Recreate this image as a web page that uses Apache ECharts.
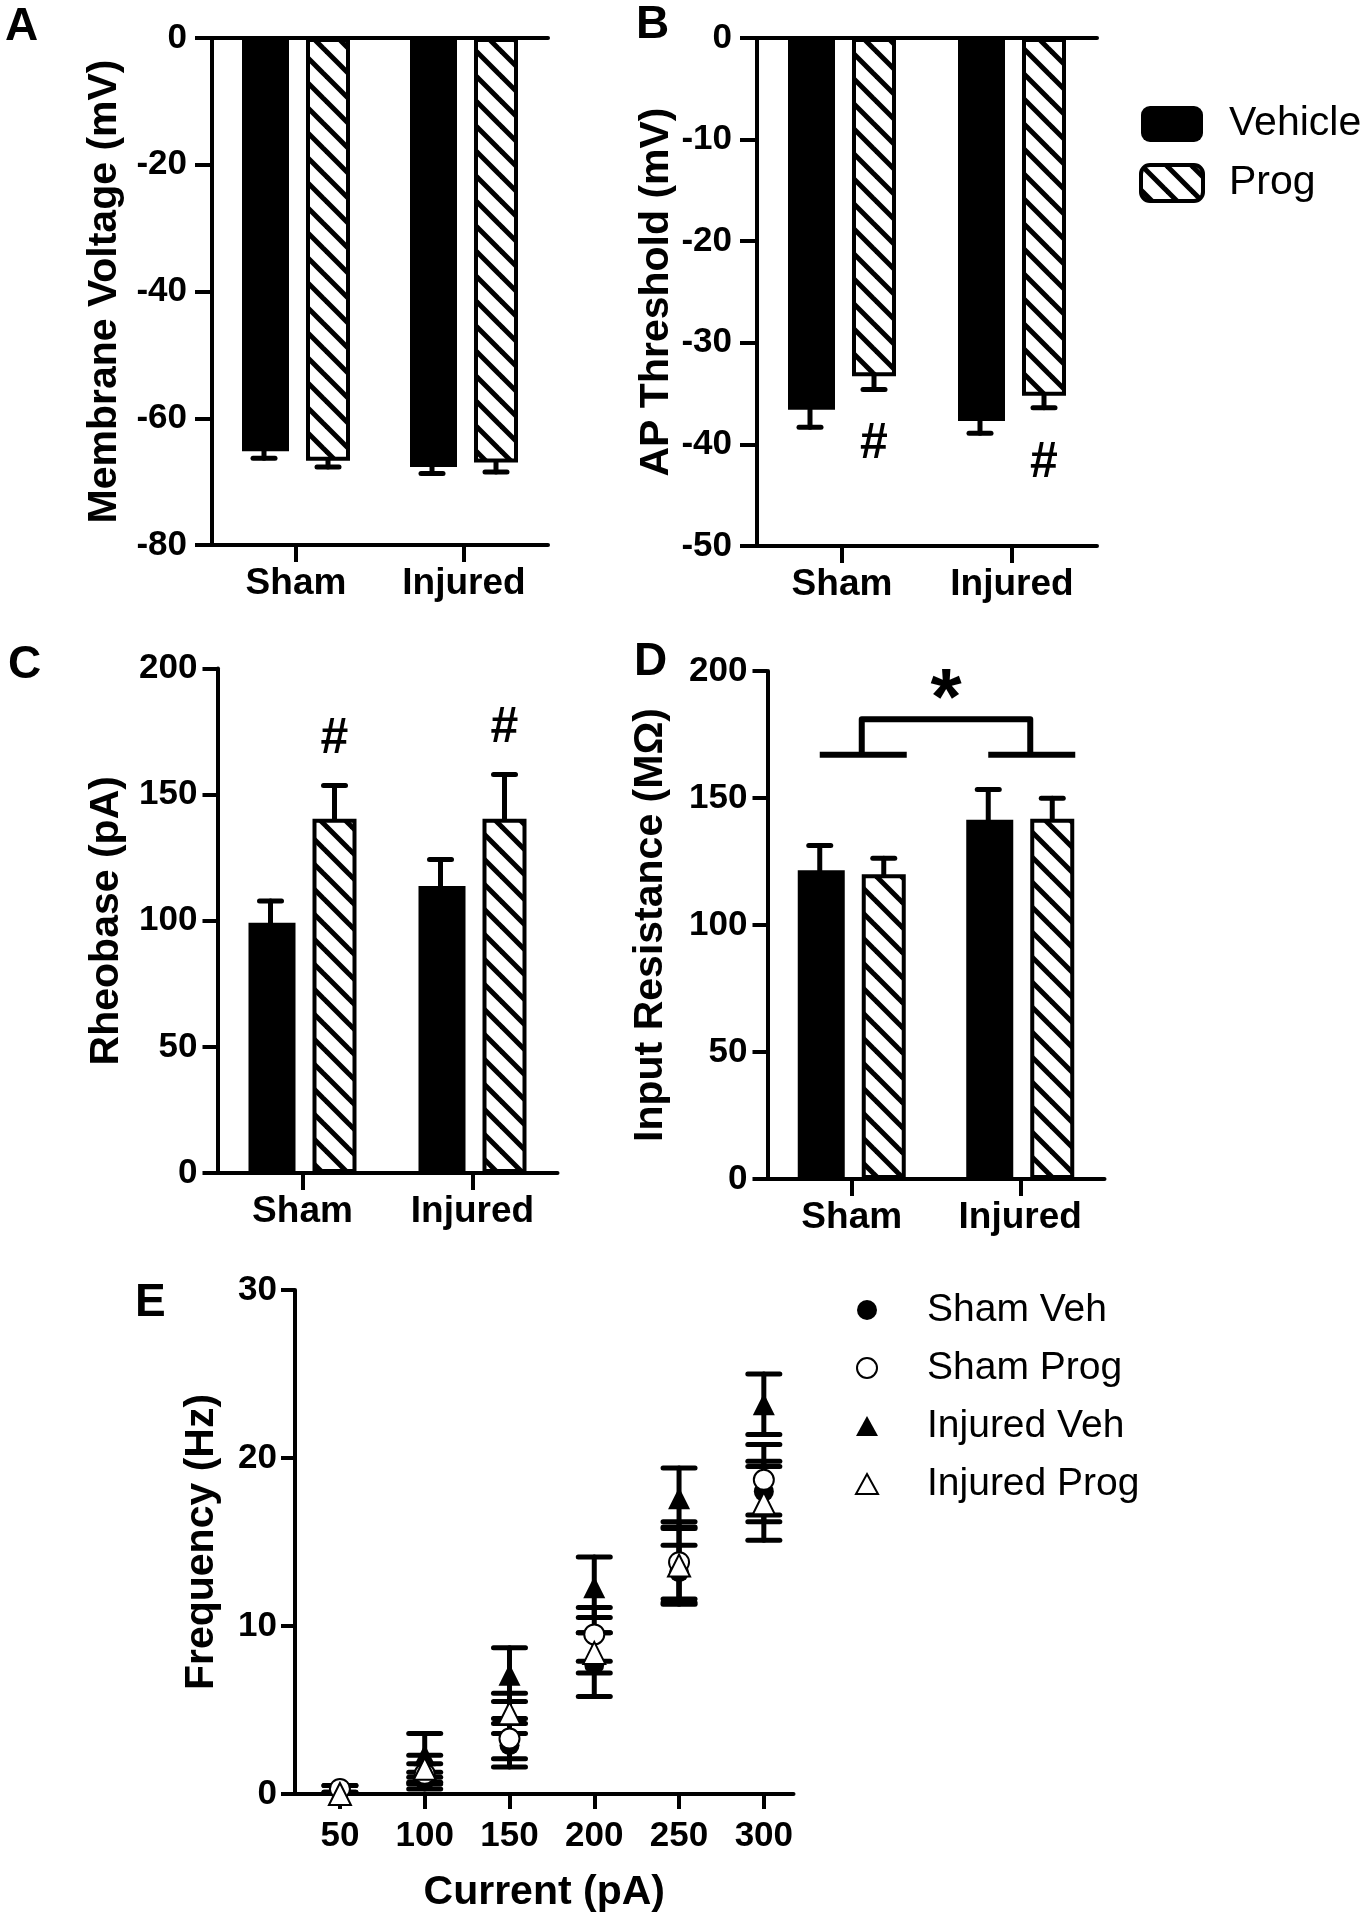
<!DOCTYPE html>
<html><head><meta charset="utf-8">
<script src="https://cdn.jsdelivr.net/npm/echarts@6/dist/echarts.min.js"></script>
<style>html,body{margin:0;padding:0;background:#fff}#c{width:1371px;height:1920px}</style>
</head><body><div id="c"></div>
<script>
// ---------- DATA ----------
const groups = ['Sham', 'Injured'];
const treatments = ['Vehicle', 'Prog'];

// Panel A: Membrane Voltage (mV)
const memTicks = [-80, -60, -40, -20, 0];
const memVeh = [-65.2, -67.7];
const memVehErr = [1.1, 1.0];
const memProg = [-66.7, -67.0];
const memProgErr = [1.0, 1.5];

// Panel B: AP Threshold (mV)
const apTicks = [-50, -40, -30, -20, -10, 0];
const apVeh = [-36.6, -37.7];
const apVehErr = [1.7, 1.2];
const apProg = [-33.3, -35.2];
const apProgErr = [1.3, 1.2];
const apProgSig = ['#', '#'];

// Panel C: Rheobase (pA)
const rheoTicks = [0, 50, 100, 150, 200];
const rheoVeh = [99.2, 113.8];
const rheoVehErr = [8.6, 10.5];
const rheoProg = [140.4, 140.4];
const rheoProgErr = [13.2, 17.6];
const rheoProgSig = ['#', '#'];

// Panel D: Input Resistance (MΩ)
const rinTicks = [0, 50, 100, 150, 200];
const rinVeh = [121.6, 141.4];
const rinVehErr = [9.7, 11.9];
const rinProg = [120.0, 141.8];
const rinProgErr = [6.3, 8.1];
const rinBracket = { base: 167, top: 181, label: '*' };

// Panel E: Frequency (Hz) vs Current (pA)
const currents = [50, 100, 150, 200, 250, 300];
const freqTicks = [0, 10, 20, 30];
const shamVeh = [0.3, 0.8, 2.9, 7.7, 13.2, 18.0];
const shamVehSem = [0.2, 0.5, 1.3, 1.9, 1.6, 1.8];
const shamProg = [0.3, 1.2, 3.3, 9.5, 13.8, 18.7];
const shamProgSem = [0.2, 0.6, 1.2, 1.6, 2.4, 2.1];
const injVeh = [0.0, 2.3, 7.1, 12.3, 17.6, 23.2];
const injVehSem = [0.0, 1.3, 1.6, 1.8, 1.8, 1.8];
const injProg = [0.0, 1.5, 4.8, 8.4, 13.6, 17.3];
const injProgSem = [0.0, 0.8, 1.2, 1.2, 2.3, 2.2];
const eNames = ['Sham Veh', 'Sham Prog', 'Injured Veh', 'Injured Prog'];

// ---------- STYLE ----------
const FONT = '"Liberation Sans", Arial, Helvetica, sans-serif';
const K = '#000';
const AXW = 4;
const BARW = 47, GAP = 17;
const OFF = (BARW + GAP) / 2;

function hatchCanvas() {
  const T = 25, c = document.createElement('canvas');
  c.width = T; c.height = T;
  const g = c.getContext('2d');
  g.fillStyle = '#fff'; g.fillRect(0, 0, T, T);
  g.strokeStyle = '#000'; g.lineWidth = 5;
  for (const k of [-1, 0, 1]) {
    g.beginPath(); g.moveTo(k * T - 3, -3); g.lineTo(k * T + T + 3, T + 3); g.stroke();
  }
  return c;
}
const hatchFill = { image: hatchCanvas(), repeat: 'repeat' };

const panels = [
  { grid: { left: 212, top: 38, width: 336, height: 507 }, ticks: memTicks, name: 'Membrane Voltage (mV)', nameGap: 87, tickLen: 17, labMargin: 25,
    veh: memVeh, vehErr: memVehErr, prog: memProg, progErr: memProgErr, sig: null, neg: true },
  { grid: { left: 757, top: 38, width: 340, height: 508 }, ticks: apTicks, name: 'AP Threshold (mV)', nameGap: 80, tickLen: 17, labMargin: 25,
    veh: apVeh, vehErr: apVehErr, prog: apProg, progErr: apProgErr, sig: apProgSig, sigGap: 55, neg: true },
  { grid: { left: 217.5, top: 668.5, width: 340, height: 504.5 }, ticks: rheoTicks, name: 'Rheobase (pA)', nameGap: 90, tickLen: 15, labMargin: 20,
    veh: rheoVeh, vehErr: rheoVehErr, prog: rheoProg, progErr: rheoProgErr, sig: rheoProgSig, sigGap: 46, neg: false },
  { grid: { left: 767.5, top: 671, width: 337, height: 508 }, ticks: rinTicks, name: 'Input Resistance (MΩ)', nameGap: 96, tickLen: 15, labMargin: 20,
    veh: rinVeh, vehErr: rinVehErr, prog: rinProg, progErr: rinProgErr, sig: null, neg: false, bracket: rinBracket }
];

const grids = [], xAxes = [], yAxes = [], series = [];
const axisLine = { show: true, onZero: false, lineStyle: { color: K, width: AXW } };

function errRenderer(offset, sig, sigGap) {
  return function (params, api) {
    const c = api.value(0), v = api.value(1), e = api.value(2);
    const dir = v < 0 ? -1 : 1;
    const p0 = api.coord([c, v]);
    const p1 = api.coord([c, v + dir * e]);
    const x = p0[0] + offset;
    const st = { stroke: K, lineWidth: 5, lineCap: 'round' };
    const ch = [
      { type: 'line', shape: { x1: x, y1: p0[1], x2: x, y2: p1[1] }, style: st },
      { type: 'line', shape: { x1: x - 11, y1: p1[1], x2: x + 11, y2: p1[1] }, style: st }
    ];
    if (sig && sig[params.dataIndex]) {
      ch.push({ type: 'text', style: { text: sig[params.dataIndex], x: x, y: p1[1] - dir * sigGap,
        textAlign: 'center', textVerticalAlign: 'middle', font: 'bold 50px ' + FONT, fill: K } });
    }
    return { type: 'group', children: ch };
  };
}

panels.forEach((p, i) => {
  grids.push(p.grid);
  const xi = xAxes.length;
  xAxes.push({
    type: 'category', gridIndex: i, data: groups, position: 'bottom',
    axisLine: axisLine,
    axisTick: { show: true, alignWithLabel: true, length: 17, lineStyle: { color: K, width: AXW } },
    axisLabel: { color: K, fontSize: 37, fontWeight: 'bold', fontFamily: FONT, margin: 20 },
    splitLine: { show: false }
  });
  if (p.neg) {
    xAxes.push({
      type: 'category', gridIndex: i, data: groups, position: 'top',
      axisLine: axisLine, axisTick: { show: false }, axisLabel: { show: false }, splitLine: { show: false }
    });
  }
  const t = p.ticks;
  yAxes.push({
    type: 'value', gridIndex: i, min: t[0], max: t[t.length - 1], interval: t[1] - t[0],
    axisLine: axisLine,
    axisTick: { show: true, length: p.tickLen, lineStyle: { color: K, width: AXW } },
    axisLabel: { color: K, fontSize: 35, fontWeight: 'bold', fontFamily: FONT, margin: p.labMargin },
    splitLine: { show: false },
    name: p.name, nameLocation: 'middle', nameGap: p.nameGap,
    nameTextStyle: { color: K, fontSize: 41, fontWeight: 'bold', fontFamily: FONT }
  });
  series.push({ type: 'bar', name: treatments[0], xAxisIndex: xi, yAxisIndex: i, data: p.veh,
    barWidth: BARW, barGap: (GAP / BARW * 100) + '%', itemStyle: { color: K }, z: 2 });
  series.push({ type: 'bar', name: treatments[1], xAxisIndex: xi, yAxisIndex: i, data: p.prog,
    barWidth: BARW - 3, barGap: (GAP / BARW * 100) + '%', itemStyle: { color: hatchFill, borderColor: K, borderWidth: 4 }, z: 2 });
  series.push({ type: 'custom', name: 'err', xAxisIndex: xi, yAxisIndex: i, z: 3, silent: true,
    data: p.veh.map((v, j) => [j, v, p.vehErr[j]]), renderItem: errRenderer(-OFF, null, 0) });
  series.push({ type: 'custom', name: 'err', xAxisIndex: xi, yAxisIndex: i, z: 3, silent: true,
    data: p.prog.map((v, j) => [j, v, p.progErr[j]]), renderItem: errRenderer(OFF, p.sig, p.sigGap || 0) });
  if (p.bracket) {
    const b = p.bracket;
    series.push({ type: 'custom', name: 'bracket', xAxisIndex: xi, yAxisIndex: i, z: 4, silent: true,
      data: [[0, 1, b.base, b.top]],
      renderItem: function (params, api) {
        const a = api.coord([api.value(0), api.value(2)]);
        const c = api.coord([api.value(1), api.value(2)]);
        const topY = api.coord([api.value(0), api.value(3)])[1];
        const st = { stroke: K, lineWidth: 6, lineJoin: 'round', lineCap: 'butt', fill: null };
        const u0 = a[0] + 10, u1 = c[0] + 10;
        return { type: 'group', children: [
          { type: 'line', shape: { x1: a[0] - 32, y1: a[1], x2: a[0] + 55, y2: a[1] }, style: st },
          { type: 'line', shape: { x1: c[0] - 32, y1: c[1], x2: c[0] + 55, y2: c[1] }, style: st },
          { type: 'polyline', shape: { points: [[u0, a[1]], [u0, topY], [u1, topY], [u1, c[1]]] }, style: st },
          { type: 'text', style: { text: b.label, x: (u0 + u1) / 2, y: topY - 17, textAlign: 'center',
            textVerticalAlign: 'middle', font: 'bold 80px ' + FONT, fill: K } }
        ] };
      } });
  }
});

// Panel E
const eIdx = grids.length;
grids.push({ left: 295, top: 1290, width: 498.5, height: 504 });
const exi = xAxes.length;
xAxes.push({
  type: 'value', gridIndex: eIdx, min: 23.5, max: 317.5,
  axisLine: axisLine,
  axisTick: { show: true, customValues: currents, length: 15, lineStyle: { color: K, width: AXW } },
  axisLabel: { customValues: currents, color: K, fontSize: 35, fontWeight: 'bold', fontFamily: FONT, margin: 25 },
  splitLine: { show: false },
  name: 'Current (pA)', nameLocation: 'middle', nameGap: 78,
  nameTextStyle: { color: K, fontSize: 41, fontWeight: 'bold', fontFamily: FONT }
});
const eyi = yAxes.length;
yAxes.push({
  type: 'value', gridIndex: eIdx, min: freqTicks[0], max: freqTicks[freqTicks.length - 1], interval: freqTicks[1] - freqTicks[0],
  axisLine: axisLine,
  axisTick: { show: true, length: 14, lineStyle: { color: K, width: AXW } },
  axisLabel: { color: K, fontSize: 35, fontWeight: 'bold', fontFamily: FONT, margin: 18 },
  splitLine: { show: false },
  name: 'Frequency (Hz)', nameLocation: 'middle', nameGap: 73,
  nameTextStyle: { color: K, fontSize: 41, fontWeight: 'bold', fontFamily: FONT }
});
const eData = [
  { mean: shamVeh, sem: shamVehSem, symbol: 'circle' },
  { mean: shamProg, sem: shamProgSem, symbol: 'emptyCircle' },
  { mean: injVeh, sem: injVehSem, symbol: 'triangle' },
  { mean: injProg, sem: injProgSem, symbol: 'emptyTriangle' }
];
eData.forEach((d, k) => {
  series.push({ type: 'custom', name: 'semE', xAxisIndex: exi, yAxisIndex: eyi, z: 3, silent: true,
    data: currents.map((c, j) => [c, d.mean[j], d.sem[j]]),
    renderItem: function (params, api) {
      const x = api.value(0), m = api.value(1), s = api.value(2);
      if (!s) return { type: 'group', children: [] };
      const hi = api.coord([x, m + s]), lo = api.coord([x, m - s]);
      const st = { stroke: K, lineWidth: 5, lineCap: 'round' };
      return { type: 'group', children: [
        { type: 'line', shape: { x1: hi[0], y1: hi[1], x2: lo[0], y2: lo[1] }, style: st },
        { type: 'line', shape: { x1: hi[0] - 16, y1: hi[1], x2: hi[0] + 16, y2: hi[1] }, style: st },
        { type: 'line', shape: { x1: lo[0] - 16, y1: lo[1], x2: lo[0] + 16, y2: lo[1] }, style: st }
      ] };
    } });
});
eData.forEach((d, k) => {
  const empty = d.symbol.indexOf('empty') === 0;
  series.push({ type: 'scatter', name: eNames[k], xAxisIndex: exi, yAxisIndex: eyi, z: 5,
    symbol: d.symbol, symbolSize: d.symbol.indexOf('riangle') >= 0 ? 22 : 20,
    itemStyle: { color: K, borderColor: K, borderWidth: empty ? 3 : 0, opacity: 1 },
    data: currents.map((c, j) => [c, d.mean[j]]) });
});

const panelLetters = [
  { t: 'A', x: 5, y: 27 }, { t: 'B', x: 636, y: 25 }, { t: 'C', x: 8, y: 665 },
  { t: 'D', x: 634, y: 662 }, { t: 'E', x: 135, y: 1303 }
];

const chart = echarts.init(document.getElementById('c'), null, { renderer: 'canvas' });
chart.setOption({
  backgroundColor: '#fff',
  animation: false,
  textStyle: { fontFamily: FONT },
  grid: grids, xAxis: xAxes, yAxis: yAxes, series: series,
  legend: [
    { left: 1134, top: 98, orient: 'vertical', itemWidth: 62, itemHeight: 36, itemGap: 17, selectedMode: false,
      icon: 'roundRect',
      textStyle: { color: K, fontSize: 41, fontFamily: FONT, lineHeight: 42, padding: [0, 0, 0, 21] },
      data: [ { name: treatments[0], itemStyle: { color: K, borderWidth: 0 } },
              { name: treatments[1], itemStyle: { color: hatchFill, borderColor: K, borderWidth: 4 } } ] },
    { left: 850, top: 1285, orient: 'vertical', itemWidth: 22, itemHeight: 20, itemGap: 18, selectedMode: false,
      textStyle: { color: K, fontSize: 39, fontFamily: FONT, lineHeight: 40, padding: [0, 0, 0, 44] },
      data: eNames }
  ],
  graphic: panelLetters.map(l => ({ type: 'text', style: { text: l.t, x: l.x, y: l.y,
    textAlign: 'left', textVerticalAlign: 'middle', font: 'bold 46px ' + FONT, fill: K } }))
});
</script></body></html>
